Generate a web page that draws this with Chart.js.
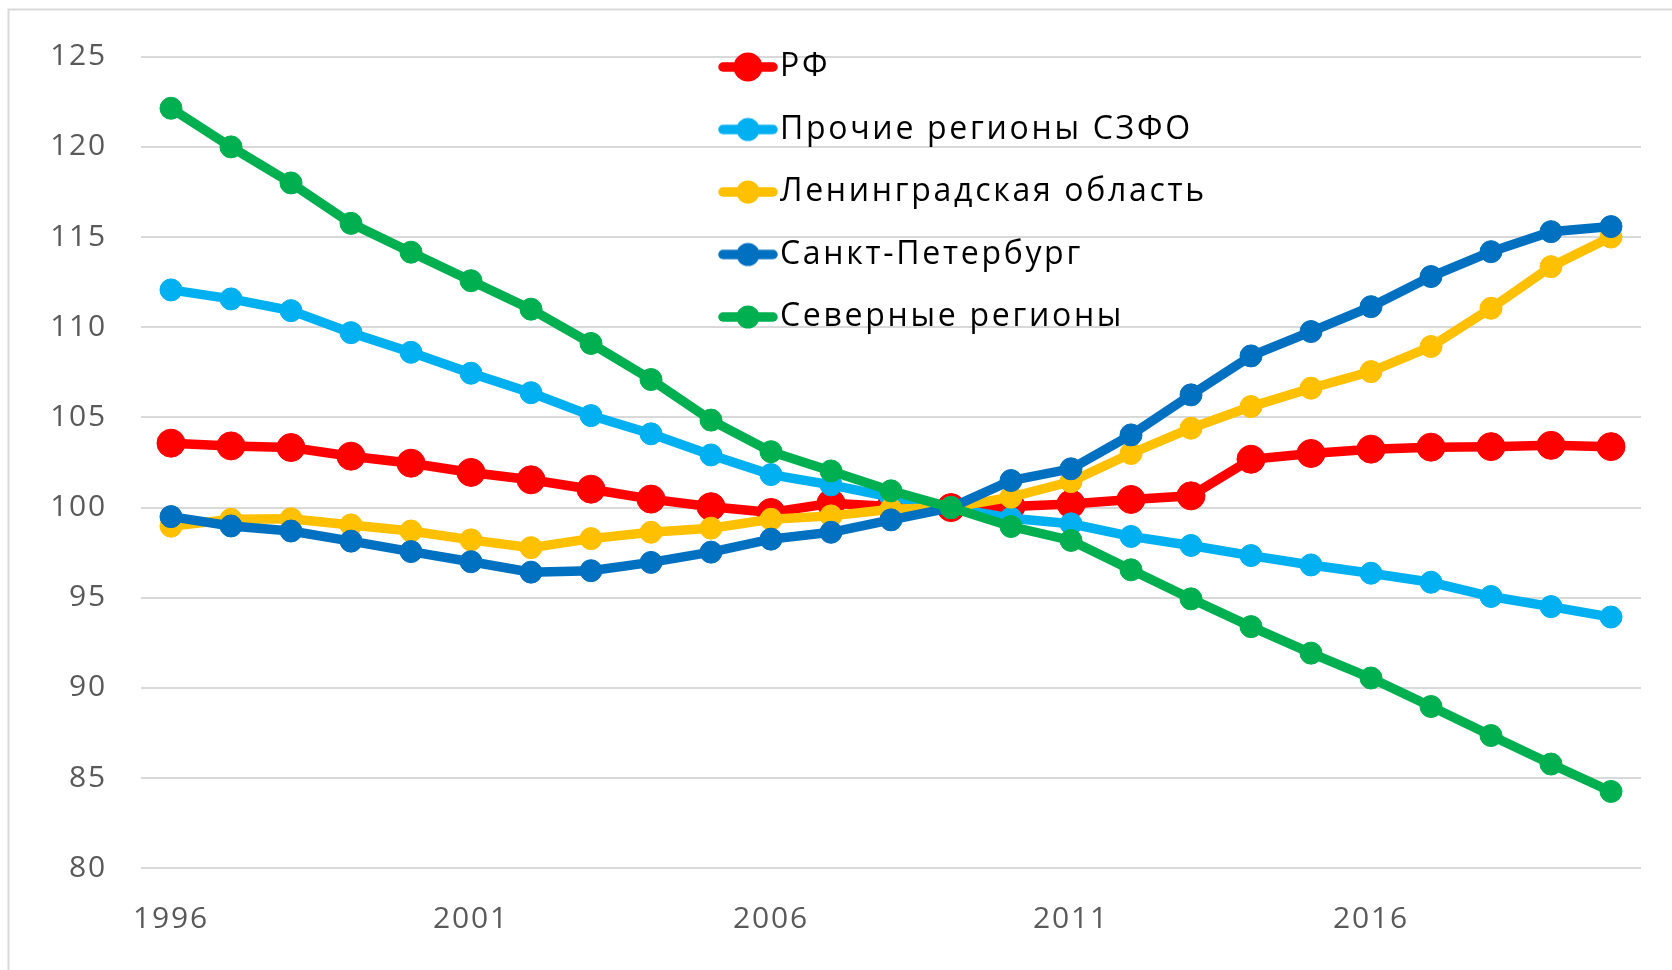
<!DOCTYPE html>
<html>
<head>
<meta charset="utf-8">
<script src="https://cdn.jsdelivr.net/npm/chart.js@4/dist/chart.umd.min.js"></script>
<style>
  html, body { margin: 0; padding: 0; background: #fff; }
  #wrap { width: 1672px; height: 970px; }
</style>
</head>
<body>
<div id="wrap"><canvas id="c" width="1672" height="970"></canvas></div>
<script>
const years = ['1996','1997','1998','1999','2000','2001','2002','2003','2004','2005','2006','2007','2008','2009','2010','2011','2012','2013','2014','2015','2016','2017','2018','2019','2020'];

const seriesNames = ['РФ', 'Прочие регионы СЗФО', 'Ленинградская область', 'Санкт-Петербург', 'Северные регионы'];

const rf = [103.57, 103.42, 103.33, 102.85, 102.46, 101.95, 101.54, 101.02, 100.47, 100.05, 99.73, 100.24, 100.06, 100.0, 100.06, 100.2, 100.45, 100.65, 102.68, 103.0, 103.24, 103.35, 103.38, 103.45, 103.38];
const otherNW = [112.07, 111.57, 110.92, 109.70, 108.61, 107.45, 106.37, 105.1, 104.09, 102.92, 101.83, 101.26, 100.58, 100.0, 99.41, 99.1, 98.4, 97.9, 97.34, 96.82, 96.36, 95.86, 95.07, 94.51, 93.93];
const lenObl = [98.97, 99.35, 99.38, 99.04, 98.7, 98.21, 97.78, 98.28, 98.63, 98.86, 99.35, 99.54, 99.91, 100.0, 100.58, 101.44, 103.0, 104.4, 105.6, 106.62, 107.54, 108.93, 111.05, 113.36, 115.0];
const spb = [99.5, 98.98, 98.7, 98.14, 97.56, 97.0, 96.42, 96.5, 96.96, 97.53, 98.25, 98.63, 99.32, 100.0, 101.5, 102.15, 104.03, 106.25, 108.41, 109.76, 111.14, 112.81, 114.19, 115.3, 115.58];
const north = [122.14, 120.0, 118.0, 115.76, 114.16, 112.58, 111.0, 109.1, 107.1, 104.85, 103.1, 102.03, 100.93, 100.0, 98.95, 98.18, 96.55, 94.94, 93.4, 91.93, 90.55, 88.97, 87.36, 85.78, 84.26];

const yTicks = [80, 85, 90, 95, 100, 105, 110, 115, 120, 125];

const colors = ['#FF0000', '#00B0F0', '#FFC000', '#0070C0', '#00B050'];
const radii = [14, 11, 11, 11, 11];
const LINE_W = 9.5;

function makeIcon(color, r) {
  const c = document.createElement('canvas');
  c.width = 60;
  c.height = Math.ceil(2 * r + 4);
  const g = c.getContext('2d');
  const cy = c.height / 2;
  g.strokeStyle = color;
  g.lineWidth = LINE_W;
  g.lineCap = 'round';
  g.beginPath();
  g.moveTo(5, cy);
  g.lineTo(55, cy);
  g.stroke();
  g.fillStyle = color;
  g.beginPath();
  g.arc(30, cy, r + 0.5, 0, Math.PI * 2);
  g.fill();
  return c;
}
const icons = colors.map((c, i) => makeIcon(c, radii[i]));

const values = [rf, otherNW, lenObl, spb, north];
const datasets = values.map((v, i) => ({
  label: seriesNames[i],
  data: v,
  borderColor: colors[i],
  backgroundColor: colors[i],
  pointBackgroundColor: colors[i],
  pointBorderColor: colors[i],
  pointRadius: radii[i],
  pointBorderWidth: 1,
  pointHoverRadius: radii[i],
  borderWidth: LINE_W,
  tension: 0,
  fill: false,
  order: 5 - i
}));

const frame = {
  id: 'frame',
  beforeDraw(chart) {
    const ctx = chart.ctx;
    ctx.save();
    ctx.fillStyle = '#ffffff';
    ctx.fillRect(0, 0, chart.width, chart.height);
    ctx.strokeStyle = '#d9d9d9';
    ctx.lineWidth = 2;
    ctx.beginPath();
    ctx.moveTo(8.5, chart.height);
    ctx.lineTo(8.5, 9.5);
    ctx.lineTo(chart.width, 9.5);
    ctx.stroke();
    ctx.restore();
    ctx.letterSpacing = '1.8px';
  },
  afterLayout(chart) {
    const lg = chart.legend;
    if (!lg) return;
    const h = lg.height;
    lg.left = 701.5; lg.top = 20.5;
    lg.right = chart.width; lg.bottom = lg.top + h;
    lg.width = lg.right - lg.left;
    if (!lg._lsPatched) {
      const orig = lg.draw;
      lg.draw = function () {
        const ctx = this.ctx;
        const prev = ctx.letterSpacing;
        ctx.letterSpacing = '2.7px';
        orig.apply(this, arguments);
        ctx.letterSpacing = prev;
      };
      lg._lsPatched = true;
    }
  }
};

new Chart(document.getElementById('c'), {
  type: 'line',
  data: { labels: years, datasets },
  plugins: [frame],
  options: {
    responsive: false,
    animation: false,
    devicePixelRatio: 1,
    layout: { padding: { top: 56.7, right: 31, bottom: 31.7, left: 0 } },
    plugins: {
      tooltip: { enabled: false },
      legend: {
        position: 'chartArea',
        align: 'start',
        fullSize: false,
        labels: {
          usePointStyle: true,
          pointStyleWidth: 32,
          boxHeight: 32,
          padding: 30.5,
          color: '#000000',
          font: { family: 'Open Sans', size: 32 },
          sort: (a, b) => a.datasetIndex - b.datasetIndex,
          generateLabels(chart) {
            const items = Chart.defaults.plugins.legend.labels.generateLabels(chart);
            items.forEach(it => { it.pointStyle = icons[it.datasetIndex]; });
            return items;
          }
        }
      }
    },
    scales: {
      x: {
        type: 'category',
        offset: true,
        grid: { display: false, drawTicks: false },
        border: { display: false },
        ticks: {
          autoSkip: false,
          maxRotation: 0,
          padding: 33,
          color: '#595959',
          font: { family: 'Open Sans', size: 30 },
          callback(val, idx) { return idx % 5 === 0 ? years[idx] : ''; }
        },
        afterFit(scale) { scale.height = 70; }
      },
      y: {
        min: yTicks[0],
        max: yTicks[yTicks.length - 1],
        afterBuildTicks(scale) { scale.ticks = yTicks.map(v => ({ value: v })); },
        grid: { color: '#d9d9d9', lineWidth: 2, drawTicks: false },
        border: { display: false },
        ticks: {
          padding: 34,
          color: '#595959',
          font: { family: 'Open Sans', size: 30 }
        },
        afterFit(scale) { scale.width = 141; }
      }
    }
  }
});
</script>
</body>
</html>
